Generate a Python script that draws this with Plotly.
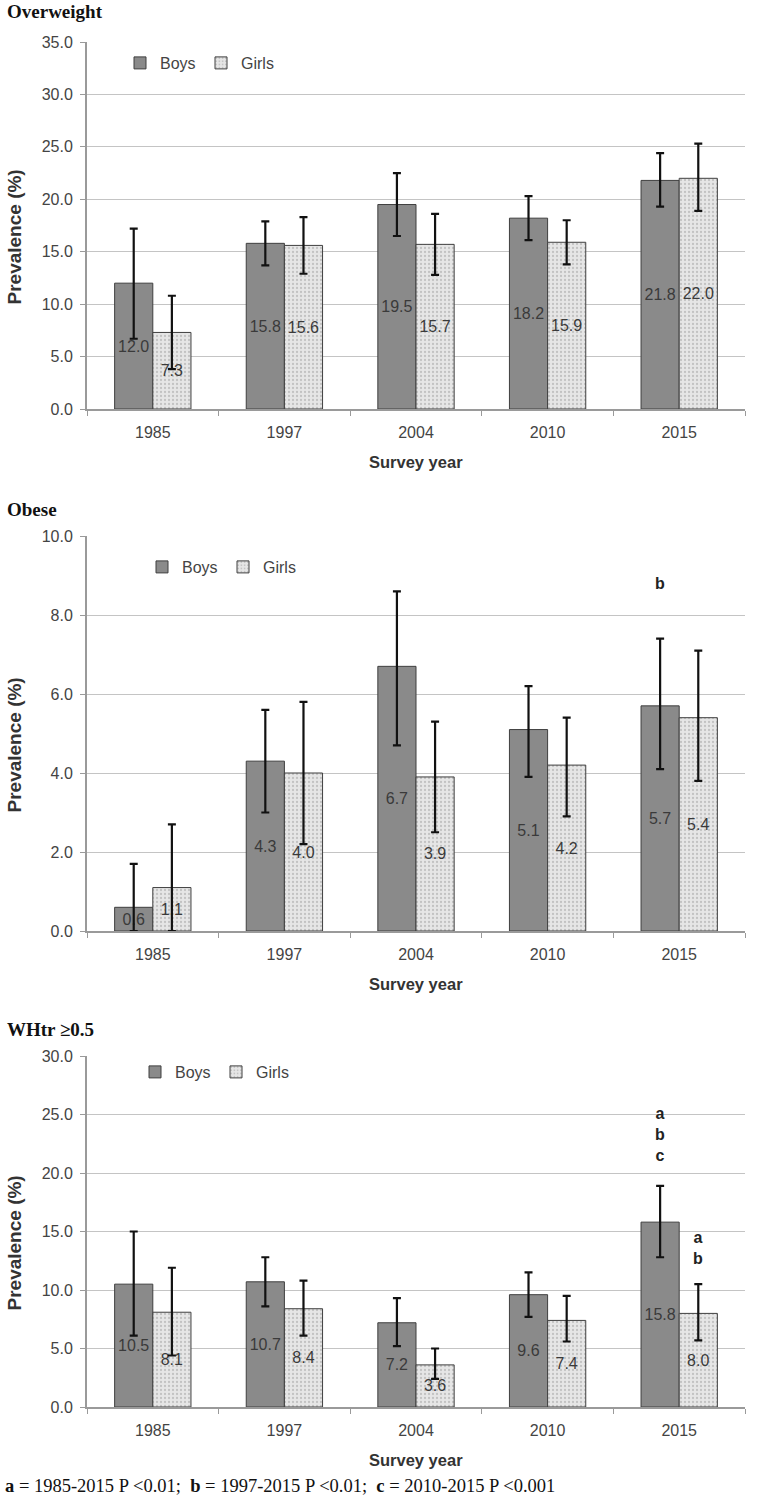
import plotly.graph_objects as go

# survey years (categories)
years = ['1985', '1997', '2004', '2010', '2015']

# Overweight prevalence (%) with 95% CI
ow_boys = [12.0, 15.8, 19.5, 18.2, 21.8]
ow_boys_lo = [6.7, 13.7, 16.5, 16.1, 19.3]
ow_boys_hi = [17.2, 17.9, 22.5, 20.3, 24.4]
ow_girls = [7.3, 15.6, 15.7, 15.9, 22.0]
ow_girls_lo = [3.8, 12.9, 12.8, 13.8, 18.9]
ow_girls_hi = [10.8, 18.3, 18.6, 18.0, 25.3]

# Obese prevalence (%) with 95% CI
ob_boys = [0.6, 4.3, 6.7, 5.1, 5.7]
ob_boys_lo = [0.0, 3.0, 4.7, 3.9, 4.1]
ob_boys_hi = [1.7, 5.6, 8.6, 6.2, 7.4]
ob_girls = [1.1, 4.0, 3.9, 4.2, 5.4]
ob_girls_lo = [0.0, 2.2, 2.5, 2.9, 3.8]
ob_girls_hi = [2.7, 5.8, 5.3, 5.4, 7.1]

# WHtR >= 0.5 prevalence (%) with 95% CI
wh_boys = [10.5, 10.7, 7.2, 9.6, 15.8]
wh_boys_lo = [6.1, 8.6, 5.2, 7.7, 12.8]
wh_boys_hi = [15.0, 12.8, 9.3, 11.5, 18.9]
wh_girls = [8.1, 8.4, 3.6, 7.4, 8.0]
wh_girls_lo = [4.4, 6.1, 2.4, 5.6, 5.7]
wh_girls_hi = [11.9, 10.8, 5.0, 9.5, 10.5]

# significance letters: (panel, year, sex, text, y)
sig_marks = [
    (2, '2015', 'Boys', 'b', 8.8),
    (3, '2015', 'Boys', 'a<br>b<br>c', 23.3),
    (3, '2015', 'Girls', 'a<br>b', 13.6),
]

panel_titles = ['Overweight', 'Obese', 'WHtr ≥0.5']
y_ranges = [35, 10, 30]
y_dticks = [5, 2, 5]

W, H = 760, 1504
# pixel positions of each panel (top, bottom)
panels_px = [(42, 409), (536, 931), (1056, 1407)]
x_left, x_right = 87, 745
legend_px = [(120, 63), (142, 567), (135, 1072)]
title_px = [12, 509, 1029]

BOYS_COL = '#8a8a8a'
GIRLS_COL = '#e6e6e6'
EDGE = '#3f3f3f'
GRID = '#c4c4c4'
AXIS = '#9a9a9a'
TXT = '#3a3a3a'
SANS = 'Liberation Sans, Arial, sans-serif'
SERIF = 'Liberation Serif, Times New Roman, serif'

data = [
    (ow_boys, ow_boys_lo, ow_boys_hi, ow_girls, ow_girls_lo, ow_girls_hi),
    (ob_boys, ob_boys_lo, ob_boys_hi, ob_girls, ob_girls_lo, ob_girls_hi),
    (wh_boys, wh_boys_lo, wh_boys_hi, wh_girls, wh_girls_lo, wh_girls_hi),
]

fig = go.Figure()

def py(px):
    return 1 - px / H

for i, (b, blo, bhi, g, glo, ghi) in enumerate(data):
    n = i + 1
    xa = 'x' if n == 1 else f'x{n}'
    ya = 'y' if n == 1 else f'y{n}'
    lg = 'legend' if n == 1 else f'legend{n}'
    for name, vals, lo, hi, col in [('Boys', b, blo, bhi, BOYS_COL),
                                    ('Girls', g, glo, ghi, GIRLS_COL)]:
        marker = dict(color=col, line=dict(color=EDGE, width=1))
        if name == 'Girls':
            marker['pattern'] = dict(shape='.', fgcolor='#c2c2c2', bgcolor=col,
                                     size=4, solidity=0.25)
        fig.add_trace(go.Bar(
            x=years, y=vals, name=name, xaxis=xa, yaxis=ya, legend=lg,
            marker=marker,
            text=[f'{v:.1f}' for v in vals], textposition='inside',
            insidetextanchor='middle',
            textfont=dict(family=SANS, size=16, color=TXT),
            error_y=dict(type='data', symmetric=False,
                         array=[h - v for h, v in zip(hi, vals)],
                         arrayminus=[v - l for v, l in zip(vals, lo)],
                         color='#111111', thickness=2.2, width=4),
            hoverinfo='skip',
        ))

layout = dict(
    width=W, height=H, template='none',
    paper_bgcolor='white', plot_bgcolor='white',
    margin=dict(l=0, r=0, t=0, b=0),
    barmode='group', bargap=0.42, bargroupgap=0,
    showlegend=True,
    font=dict(family=SANS, color=TXT),
)

annotations = []
for i in range(3):
    n = i + 1
    top, bot = panels_px[i]
    xk = 'xaxis' if n == 1 else f'xaxis{n}'
    yk = 'yaxis' if n == 1 else f'yaxis{n}'
    layout[xk] = dict(
        domain=[x_left / W, x_right / W], anchor='y' if n == 1 else f'y{n}',
        type='category', range=[-0.5, len(years) - 0.5],
        showline=True, linecolor=AXIS, linewidth=1.5,
        ticks='outside', tickson='boundaries', ticklen=5, tickcolor=AXIS,
        ticklabelstandoff=8,
        showgrid=False, zeroline=False, automargin=False,
        tickfont=dict(family=SANS, size=16, color='#444444'),
    )
    layout[yk] = dict(
        domain=[py(bot), py(top)], anchor='x' if n == 1 else f'x{n}',
        range=[0, y_ranges[i]], dtick=y_dticks[i], tick0=0, tickformat='.1f',
        showline=True, linecolor=AXIS, linewidth=2,
        ticks='outside', ticklen=5, tickcolor=AXIS, ticklabelstandoff=4,
        showgrid=True, gridcolor=GRID, gridwidth=1.3, zeroline=False,
        automargin=False,
        tickfont=dict(family=SANS, size=16, color='#444444'),
    )
    lk = 'legend' if n == 1 else f'legend{n}'
    lx, ly = legend_px[i]
    layout[lk] = dict(
        x=lx / W, y=py(ly), xanchor='left', yanchor='middle',
        orientation='h', bgcolor='rgba(0,0,0,0)', itemwidth=30,
        entrywidth=36, entrywidthmode='pixels',
        font=dict(family=SANS, size=16, color='#444444'),
        tracegroupgap=0, itemclick=False,
    )
    # panel title
    annotations.append(dict(
        text=f'<b>{panel_titles[i]}</b>', xref='paper', yref='paper',
        x=5 / W, y=py(title_px[i]), xanchor='left', yanchor='middle',
        showarrow=False, font=dict(family=SERIF, size=19, color='#111111')))
    # y axis title
    annotations.append(dict(
        text='<b>Prevalence (%)</b>', xref='paper', yref='paper',
        x=14 / W, y=py((top + bot) / 2 + 12), xanchor='center',
        yanchor='middle', textangle=-90, showarrow=False,
        font=dict(family=SANS, size=19, color='#333333')))
    # x axis title
    annotations.append(dict(
        text='<b>Survey year</b>', xref='paper', yref='paper',
        x=(x_left + x_right) / 2 / W, y=py(bot + 53), xanchor='center',
        yanchor='middle', showarrow=False,
        font=dict(family=SANS, size=16.5, color='#333333')))

for panel, yr, sex, txt, yv in sig_marks:
    annotations.append(dict(
        text=f'<b>{txt}</b>', xref='x' if panel == 1 else f'x{panel}',
        yref='y' if panel == 1 else f'y{panel}', x=years.index(yr), y=yv,
        xshift=-19 if sex == 'Boys' else 19, showarrow=False,
        yanchor='middle', font=dict(family=SANS, size=16, color='#222222')))

annotations.append(dict(
    text='<b>a</b> = 1985-2015 P &lt;0.01;  <b>b</b> = 1997-2015 P &lt;0.01;  '
         '<b>c</b> = 2010-2015 P &lt;0.001',
    xref='paper', yref='paper', x=3 / W, y=py(1486), xanchor='left',
    yanchor='middle', showarrow=False,
    font=dict(family=SERIF, size=18.5, color='#111111')))

layout['annotations'] = annotations
fig.update_layout(**layout)

fig.write_html('out.html', config={'displayModeBar': False},
               post_script="document.body.style.margin='0px';")
